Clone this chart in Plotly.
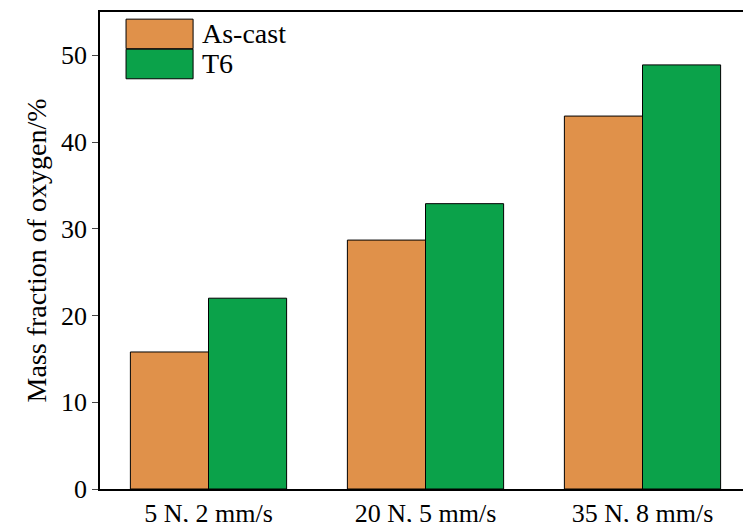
import plotly.graph_objects as go

categories = ["5 N, 2 mm/s", "20 N, 5 mm/s", "35 N, 8 mm/s"]
as_cast = [15.8, 28.7, 43.0]
t6 = [22.0, 32.9, 48.9]
colors = {"As-cast": "#E0914A", "T6": "#0BA24A"}

fig = go.Figure()
fig.add_bar(x=categories, y=as_cast, name="As-cast", marker=dict(color=colors["As-cast"], line=dict(color="black", width=1)))
fig.add_bar(x=categories, y=t6, name="T6", marker=dict(color=colors["T6"], line=dict(color="black", width=1)))

# legend drawn as large boxes
for i, name in enumerate(["As-cast", "T6"]):
    y0 = 0.985 - i * 0.063
    fig.add_shape(type="rect", xref="paper", yref="paper", x0=0.04, x1=0.143, y0=y0 - 0.062, y1=y0,
                  fillcolor=colors[name], line=dict(color="black", width=1))
    fig.add_annotation(xref="paper", yref="paper", x=0.153, y=y0 - 0.031, text=name, showarrow=False,
                       xanchor="left", yanchor="middle", font=dict(size=28))

fig.update_layout(
    width=751, height=522, paper_bgcolor="white", plot_bgcolor="white",
    margin=dict(l=92, r=8, t=2, b=40),
    barmode="group", bargap=0.28, bargroupgap=0,
    font=dict(family="Liberation Serif", size=26, color="black"),
    showlegend=False,
)
fig.update_xaxes(showline=True, linecolor="black", linewidth=1.5, mirror=True, ticks="", showgrid=False)
fig.update_yaxes(range=[0, 55], dtick=10, showline=True, linecolor="black", linewidth=1.5, mirror=True,
                 ticks="outside", ticklen=6, showgrid=False, zeroline=False,
                 title=dict(text="Mass fraction of oxygen/%", font=dict(size=28), standoff=6))
fig.write_html("out.html")
